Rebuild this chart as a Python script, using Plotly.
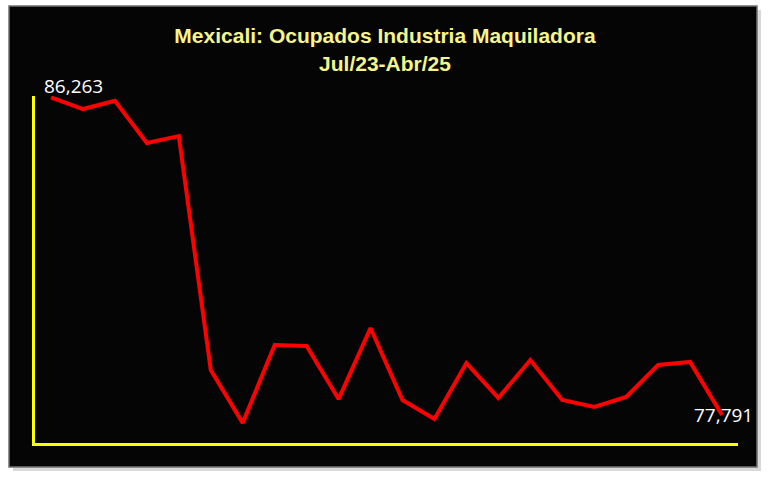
import plotly.graph_objects as go

months = ["Jul/23", "Ago/23", "Sep/23", "Oct/23", "Nov/23", "Dic/23",
          "Ene/24", "Feb/24", "Mar/24", "Abr/24", "May/24", "Jun/24",
          "Jul/24", "Ago/24", "Sep/24", "Oct/24", "Nov/24", "Dic/24",
          "Ene/25", "Feb/25", "Mar/25", "Abr/25"]
ocupados = [86263, 85950, 86170, 85045, 85230, 78990,
            77580, 79655, 79630, 78215, 80110, 78190,
            77685, 79175, 78245, 79255, 78190, 78005,
            78270, 79125, 79205, 77791]

x = list(range(len(months)))

fig = go.Figure()
fig.add_trace(go.Scatter(
    x=x, y=ocupados, mode="lines",
    line=dict(color="#FF0000", width=4),
    hoverinfo="skip", showlegend=False,
))

label_font = dict(family="Open Sans, Liberation Sans, sans-serif", size=19, color="white")
fig.add_annotation(x=x[0], y=ocupados[0], text=f"{ocupados[0]:,}", showarrow=False,
                   xanchor="left", yanchor="middle", xshift=-9, yshift=11, font=label_font)
fig.add_annotation(x=x[-1], y=ocupados[-1], text=f"{ocupados[-1]:,}", showarrow=False,
                   xanchor="center", yanchor="middle", xshift=1, yshift=0, font=label_font)

# shadow + black panel
fig.add_shape(type="rect", xref="paper", yref="paper", layer="below",
              x0=-22/703, x1=1 + 23/703, y0=-28/347, y1=1 + 86/347,
              fillcolor="#d8d8d8", line=dict(width=0))
fig.add_shape(type="rect", xref="paper", yref="paper", layer="below",
              x0=-26/703, x1=1 + 19/703, y0=-24/347, y1=1 + 90/347,
              fillcolor="#050505", line=dict(color="#707070", width=1.5))

fig.update_layout(
    width=770, height=481,
    margin=dict(l=35, r=32, t=96, b=38),
    paper_bgcolor="white",
    plot_bgcolor="rgba(0,0,0,0)",
    title=dict(
        text="Mexicali: Ocupados Industria Maquiladora<br>Jul/23-Abr/25",
        x=0.5, xanchor="center", y=0.91, yanchor="top",
        font=dict(family="Liberation Sans Narrow, Arial Narrow, Liberation Sans, sans-serif",
                  size=21, color="#F5F58C", weight="bold"),
    ),
    xaxis=dict(range=[-0.5, 21.5], showgrid=False, zeroline=False,
               showticklabels=False, ticks="",
               showline=True, linecolor="#FFFF00", linewidth=3),
    yaxis=dict(range=[77043, 86298], showgrid=False, zeroline=False,
               showticklabels=False, ticks="",
               showline=True, linecolor="#FFFF00", linewidth=3),
)

fig.write_html("out.html", config={"displayModeBar": False},
               post_script="document.body.style.margin='0';")
